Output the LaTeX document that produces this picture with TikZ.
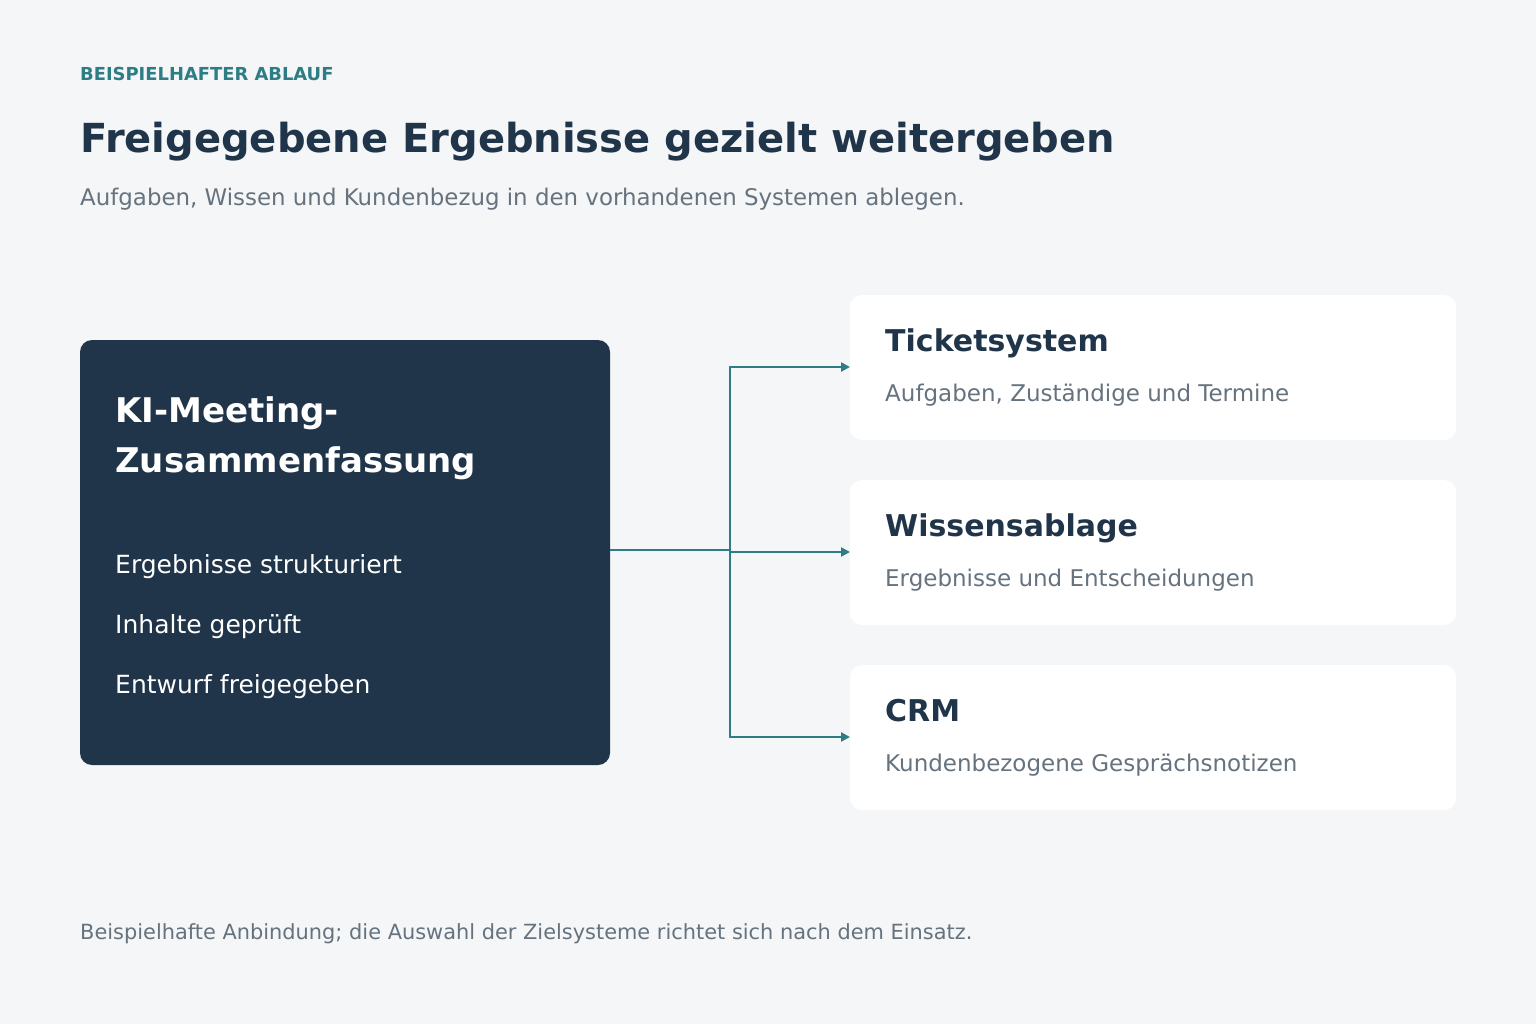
\documentclass[tikz,border=0pt]{standalone}
\usepackage{fontspec}
\setmainfont{DejaVu Sans}
\usetikzlibrary{arrows.meta}
\definecolor{bg}{HTML}{F4F6F8}
\definecolor{dark}{HTML}{203549}
\definecolor{teal}{HTML}{2E7D85}
\definecolor{gr}{HTML}{66737F}
\begin{document}
\begin{tikzpicture}[x=1pt,y=-1pt,
 txt/.style={anchor=base west,inner sep=0pt},
 card/.style={fill=white,rounded corners=12pt},
 conn/.style={draw=teal,line width=2.5pt,-{Triangle[length=9pt,width=9pt]}},
 ctitle/.style={txt,text=dark,font=\fontsize{30}{35}\selectfont\bfseries},
 csub/.style={txt,text=gr,font=\fontsize{23}{27}\selectfont}]
\fill[bg] (0,0) rectangle (1536,1024);
\useasboundingbox (0,0) rectangle (1536,1024);
\node[txt,text=teal,font=\fontsize{17.9}{20}\selectfont\bfseries] (hd) at (80,81) {BEISPIELHAFTER ABLAUF};
\node[txt,text=dark,font=\fontsize{40}{46}\selectfont\bfseries] (ti) at (80,153) {Freigegebene Ergebnisse gezielt weitergeben};
\node[txt,text=gr,font=\fontsize{22.9}{27}\selectfont] (st) at (80,206) {Aufgaben, Wissen und Kundenbezug in den vorhandenen Systemen ablegen.};
\fill[dark,rounded corners=12pt] (80,340) rectangle (610,765);
\coordinate (src) at (610,550);
\node[txt,text=white,font=\fontsize{34}{40}\selectfont\bfseries] (k1) at (115,422) {KI-Meeting-};
\node[txt,text=white,font=\fontsize{34}{40}\selectfont\bfseries] (k2) at (115,472) {Zusammenfassung};
\node[txt,text=white,font=\fontsize{25}{29}\selectfont] (i1) at (115,573) {Ergebnisse strukturiert};
\node[txt,text=white,font=\fontsize{25}{29}\selectfont] (i2) at (115,633) {Inhalte geprüft};
\node[txt,text=white,font=\fontsize{25}{29}\selectfont] (i3) at (115,693) {Entwurf freigegeben};
\fill[card] (850,295) rectangle (1456,440);
\fill[card] (850,480) rectangle (1456,625);
\fill[card] (850,665) rectangle (1456,810);
\coordinate (t1) at (850,367);
\coordinate (t2) at (850,552);
\coordinate (t3) at (850,737);
\coordinate (j) at (730,550);
\node[ctitle] (a1) at (885,351) {Ticketsystem};
\node[csub] (b1) at (885,401) {Aufgaben, Zuständige und Termine};
\node[ctitle] (a2) at (885,536) {Wissensablage};
\node[csub] (b2) at (885,586) {Ergebnisse und Entscheidungen};
\node[ctitle] (a3) at (885,721) {CRM};
\node[csub] (b3) at (885,771) {Kundenbezogene Gesprächsnotizen};
\draw[teal,line width=2.5pt] (src) -- (j);
\draw[conn] (730,367) -- (t1);
\draw[conn] (730,552) -- (t2);
\draw[conn] (730,737) -- (t3);
\draw[teal,line width=2.5pt] (730,366) -- (730,738);
\node[txt,text=gr,font=\fontsize{20.9}{25}\selectfont] (ft) at (80,939) {Beispielhafte Anbindung; die Auswahl der Zielsysteme richtet sich nach dem Einsatz.};
\end{tikzpicture}
\end{document}
